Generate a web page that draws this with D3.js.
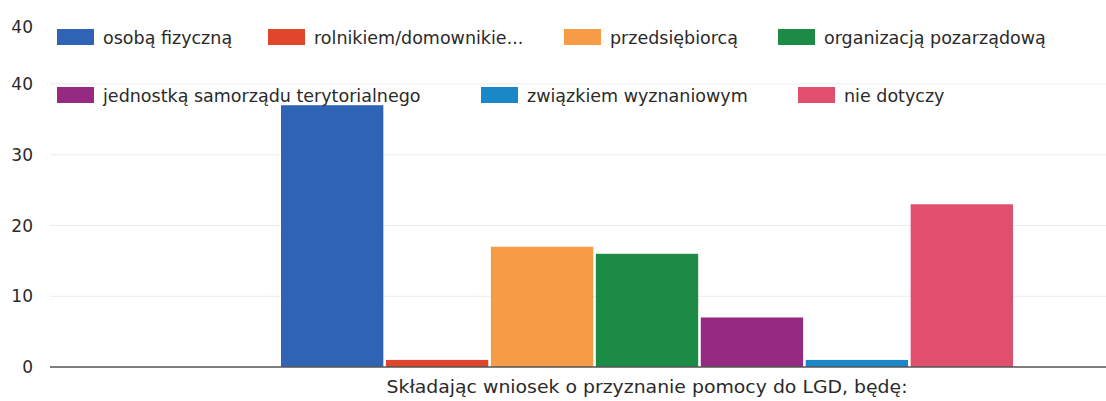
<!DOCTYPE html>
<html>
<head>
<meta charset="utf-8">
<script src="https://cdn.jsdelivr.net/npm/d3@7"></script>
<style>
  body { margin: 0; background: #fff; }
  text { font-family: "DejaVu Sans", "Liberation Sans", Arial, sans-serif; fill: #2a2a2a; }
</style>
</head>
<body>
<div id="chart"></div>
<script>
// data
var category = "Składając wniosek o przyznanie pomocy do LGD, będę:";
var seriesNames = ["osobą fizyczną", "rolnikiem/domownikie...", "przedsiębiorcą",
                   "organizacją pozarządową", "jednostką samorządu terytorialnego",
                   "związkiem wyznaniowym", "nie dotyczy"];
var seriesValues = [37, 1, 17, 16, 7, 1, 23];
var seriesColors = ["#2f63b3", "#e0462c", "#f69c47", "#1b8b46", "#962a80", "#1a88c6", "#e04f6e"];
var tickValues = [0, 10, 20, 30, 40, 48];
var tickLabels = ["0", "10", "20", "30", "40", "40"];

window.onload = function() {
  var width = 1106;
  var height = 401;

  var svg = d3.select("#chart")
              .append("svg")
              .attr("width", width)
              .attr("height", height);

  // scales
  var y = d3.scaleLinear()
            .domain([0, 40])
            .range([367, 84]);

  var x0 = d3.scaleBand()
             .domain([category])
             .range([50, 1244])
             .paddingOuter(0.3156)
             .paddingInner(0);

  var x1 = d3.scaleBand()
             .domain(seriesNames)
             .range([0, x0.bandwidth()])
             .paddingInner(0.025);

  // gridlines
  svg.append("g")
     .selectAll("line")
     .data([10, 20, 30, 40])
     .enter()
     .append("line")
     .attr("x1", 50)
     .attr("x2", width)
     .attr("y1", function(d) { return y(d); })
     .attr("y2", function(d) { return y(d); })
     .attr("stroke", "#ececec")
     .attr("stroke-width", 1);

  // y tick labels
  svg.append("g")
     .selectAll("text")
     .data(tickValues)
     .enter()
     .append("text")
     .attr("x", 33)
     .attr("y", function(d) { return y(d) + 6; })
     .attr("text-anchor", "end")
     .style("font-size", "17px")
     .text(function(d, i) { return tickLabels[i]; });

  // bars
  var g = svg.append("g")
             .attr("transform", "translate(" + x0(category) + ",0)");
  g.selectAll("rect")
   .data(seriesValues)
   .enter()
   .append("rect")
   .attr("x", function(d, i) { return x1(seriesNames[i]); })
   .attr("width", x1.bandwidth())
   .attr("y", function(d) { return y(d); })
   .attr("height", function(d) { return y(0) - y(d); })
   .attr("fill", function(d, i) { return seriesColors[i]; });

  // baseline
  svg.append("line")
     .attr("x1", 50)
     .attr("x2", width)
     .attr("y1", y(0))
     .attr("y2", y(0))
     .attr("stroke", "#555")
     .attr("stroke-width", 1.5);

  // category label
  svg.append("text")
     .attr("x", x0(category) + x0.bandwidth() / 2)
     .attr("y", 393)
     .attr("text-anchor", "middle")
     .attr("textLength", 521)
     .attr("lengthAdjust", "spacingAndGlyphs")
     .style("font-size", "17.5px")
     .text(category);

  // legend, two rows (item positions as laid out in the original)
  var legendRows = [[0, 1, 2, 3], [4, 5, 6]];
  var legendRowX = [[57, 268, 564, 778], [57, 481, 798]];
  var legendRowY = [29, 87];
  legendRows.forEach(function(row, r) {
    row.forEach(function(i, k) {
      var item = svg.append("g")
                    .attr("transform", "translate(" + legendRowX[r][k] + "," + legendRowY[r] + ")");
      item.append("rect")
          .attr("width", 37)
          .attr("height", 16)
          .attr("fill", seriesColors[i]);
      item.append("text")
          .attr("x", 46)
          .attr("y", 15)
          .style("font-size", "17.5px")
          .text(seriesNames[i]);
    });
  });
};
</script>
</body>
</html>
